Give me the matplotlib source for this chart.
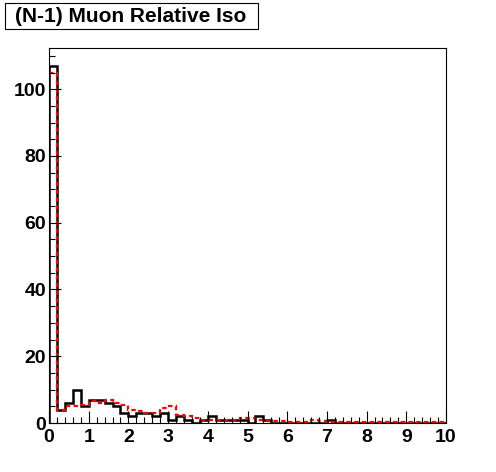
import numpy as np
import matplotlib
matplotlib.use("Agg")
import matplotlib.pyplot as plt
from matplotlib.ticker import MultipleLocator
from matplotlib.patches import Rectangle

# ---- data (muon relative isolation, 50 bins from 0 to 10) ----
bin_edges = np.linspace(0, 10, 51)

data_counts = [107, 4, 6, 10, 5, 7, 7, 6, 5, 3,
               2, 3, 3, 2, 3, 1, 2, 1, 0, 1,
               2, 1, 1, 1, 1, 0, 2, 1, 0, 0,
               0, 0, 0, 0, 0, 1, 0, 0, 0, 0,
               0, 0, 0, 0, 0, 0, 0, 0, 0, 0]

mc_counts = [105, 4, 5, 5, 5.5, 6.5, 6, 7, 6, 5.5,
             4, 3.5, 3, 3, 4.5, 5, 2.5, 2, 1.5, 1,
             1, 1, 1, 1, 1.5, 1.5, 1, 0.5, 0.5, 0.5,
             0.3, 0.3, 0.3, 1, 0.5, 0.3, 0.3, 0.2, 0.2, 0.2,
             0.2, 0.2, 0.2, 0.2, 0.2, 0.2, 0.2, 0.2, 0.2, 0.2]

title_text = "(N-1) Muon Relative Iso"

plt.rcParams['font.family'] = ['Liberation Sans', 'DejaVu Sans']

W, H = 496, 472
fig = plt.figure(figsize=(W/100, H/100), dpi=100)
ax = fig.add_axes([49/W, 1 - 423/H, (446 - 49)/W, (423 - 48)/H])

ax.stairs(data_counts, bin_edges, color='black', linewidth=1.8)
ax.stairs(mc_counts, bin_edges, color='red', linewidth=1.6, linestyle=(0, (2, 1.5)))

ax.set_xlim(0, 10)
ax.set_ylim(0, max(data_counts) * 1.05)

ax.xaxis.set_major_locator(MultipleLocator(1))
ax.xaxis.set_minor_locator(MultipleLocator(0.2))
ax.yaxis.set_major_locator(MultipleLocator(20))
ax.yaxis.set_minor_locator(MultipleLocator(5))

ax.tick_params(which='both', direction='in', top=False, right=False, width=0.8)
ax.tick_params(which='major', length=8.5, labelsize=14)
ax.tick_params(which='minor', length=4)
ax.tick_params(axis='x', which='major', pad=4)
ax.tick_params(axis='y', which='major', pad=2)
for lab in ax.get_xticklabels() + ax.get_yticklabels():
    lab.set_fontweight('bold')

for sp in ax.spines.values():
    sp.set_linewidth(0.8)

# title box (ROOT style pave)
fig.patches.append(Rectangle((5/W, 1 - 29/H), 253/W, 26/H, transform=fig.transFigure,
                             facecolor='white', edgecolor='black', linewidth=0.8))
fig.text(15/W, 1 - 16.5/H, title_text, fontsize=15, fontweight='bold', va='center', ha='left')

fig.savefig("out.png", dpi=100)
